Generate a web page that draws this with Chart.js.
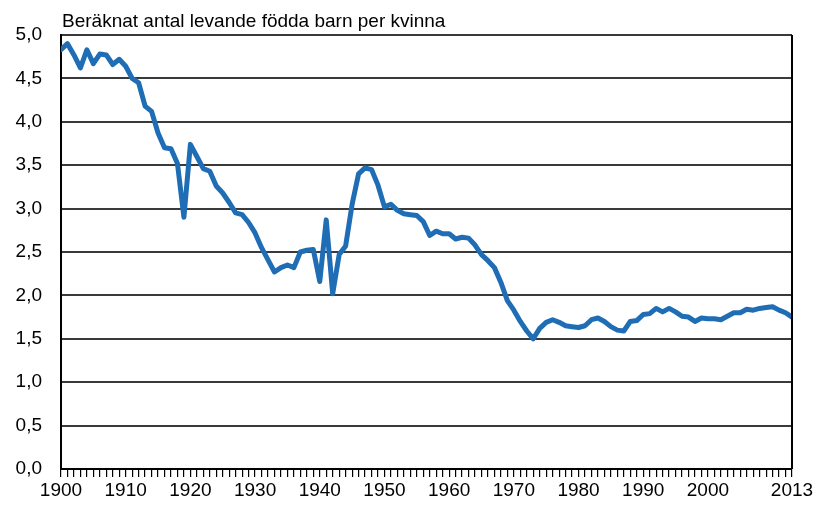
<!DOCTYPE html>
<html>
<head>
<meta charset="utf-8">
<script src="https://cdn.jsdelivr.net/npm/chart.js@4"></script>
<style>
  html, body { margin: 0; padding: 0; background: #fff; }
  #wrap { width: 817px; height: 507px; position: relative; }
</style>
</head>
<body>
<div id="wrap"><canvas id="chartjs"></canvas></div>
<script>
/*==== data ====*/
const titleText = 'Beräknat antal levande födda barn per kvinna';
const firstYear = 1900;
const lastYear = 2013;
const xTickLabels = [1900, 1910, 1920, 1930, 1940, 1950, 1960, 1970, 1980, 1990, 2000, 2013];

// summerad fruktsamhet 1900-2013
const fertility = [
    4.83, 4.90, 4.77, 4.62, 4.83, 4.67, 4.78, 4.77, 4.66, 4.72, // 1900-
    4.64, 4.50, 4.45, 4.18, 4.12, 3.87, 3.70, 3.69, 3.52, 2.90, // 1910-
    3.74, 3.60, 3.46, 3.43, 3.26, 3.18, 3.07, 2.95, 2.93, 2.84, // 1920-
    2.72, 2.55, 2.41, 2.27, 2.32, 2.35, 2.32, 2.50, 2.52, 2.53, // 1930-
    2.16, 2.87, 2.02, 2.47, 2.57, 3.05, 3.40, 3.47, 3.45, 3.27, // 1940-
    3.02, 3.05, 2.98, 2.94, 2.93, 2.92, 2.85, 2.69, 2.74, 2.71, // 1950-
    2.71, 2.65, 2.67, 2.66, 2.58, 2.47, 2.40, 2.32, 2.15, 1.94, // 1960-
    1.83, 1.70, 1.59, 1.50, 1.62, 1.69, 1.72, 1.69, 1.65, 1.64, // 1970-
    1.63, 1.65, 1.72, 1.74, 1.70, 1.64, 1.60, 1.59, 1.70, 1.71, // 1980-
    1.78, 1.79, 1.85, 1.81, 1.85, 1.81, 1.76, 1.75, 1.70, 1.74, // 1990-
    1.73, 1.73, 1.72, 1.76, 1.80, 1.80, 1.84, 1.83, 1.85, 1.86, // 2000-
    1.87, 1.83, 1.80, 1.75                                      // 2010-
];

var years = [];
for (var y = firstYear; y <= lastYear; y++) {
    years.push(y);
}
var points = years.map(function (yr, i) { return { x: yr, y: fertility[i] }; });

/*==== plugins ====*/
const frame = {
    id: 'frame',
    afterDraw(chart) {
        const ctx = chart.ctx;
        const a = chart.chartArea;
        ctx.save();
        ctx.strokeStyle = '#000';
        ctx.lineWidth = 2;
        ctx.beginPath();
        ctx.moveTo(a.right, a.top);
        ctx.lineTo(a.right, a.bottom);
        ctx.stroke();
        ctx.fillStyle = '#000';
        ctx.font = '19px "Liberation Sans", Arial, sans-serif';
        ctx.textBaseline = 'alphabetic';
        ctx.textAlign = 'left';
        ctx.fillText(titleText, a.left + 1, 27);
        ctx.restore();
    }
};

/*==== config ====*/
const config = {
    type: 'line',
    data: {
        datasets: [{
            data: points,
            borderColor: '#1f6db5',
            borderWidth: 5,
            borderJoinStyle: 'round',
            borderCapStyle: 'round',
            pointRadius: 0,
            tension: 0,
            fill: false
        }]
    },
    options: {
        responsive: false,
        animation: false,
        layout: { padding: { top: 35, right: 25, left: 0, bottom: 0 } },
        plugins: { legend: { display: false }, tooltip: { enabled: false }, title: { display: false } },
        scales: {
            x: {
                type: 'linear',
                min: firstYear,
                max: lastYear,
                afterFit: function (axis) { axis.height = 38; },
                afterBuildTicks: function (axis) {
                    axis.ticks = years.map(function (v) { return { value: v }; });
                },
                ticks: {
                    autoSkip: false,
                    maxRotation: 0,
                    padding: 2,
                    color: '#000',
                    font: { family: '"Liberation Sans", Arial, sans-serif', size: 19 },
                    callback: function (v) { return xTickLabels.indexOf(v) >= 0 ? String(v) : ''; }
                },
                grid: { drawOnChartArea: false, drawTicks: true, tickLength: 8, color: '#000', lineWidth: 1.2 },
                border: { display: true, color: '#000', width: 2 }
            },
            y: {
                min: 0,
                max: 5,
                afterFit: function (axis) { axis.width = 61; },
                ticks: {
                    stepSize: 0.5,
                    padding: 19,
                    color: '#000',
                    font: { family: '"Liberation Sans", Arial, sans-serif', size: 19 },
                    callback: function (v) { return v.toFixed(1).replace('.', ','); }
                },
                grid: { drawTicks: false, color: '#3a3a3a', lineWidth: 2 },
                border: { display: true, color: '#000', width: 2 }
            }
        }
    },
    plugins: [frame]
};

var canvas = document.querySelector('#chartjs');
canvas.width = 817;
canvas.height = 507;
var fertilityChart = new Chart(canvas, config);
</script>
</body>
</html>
